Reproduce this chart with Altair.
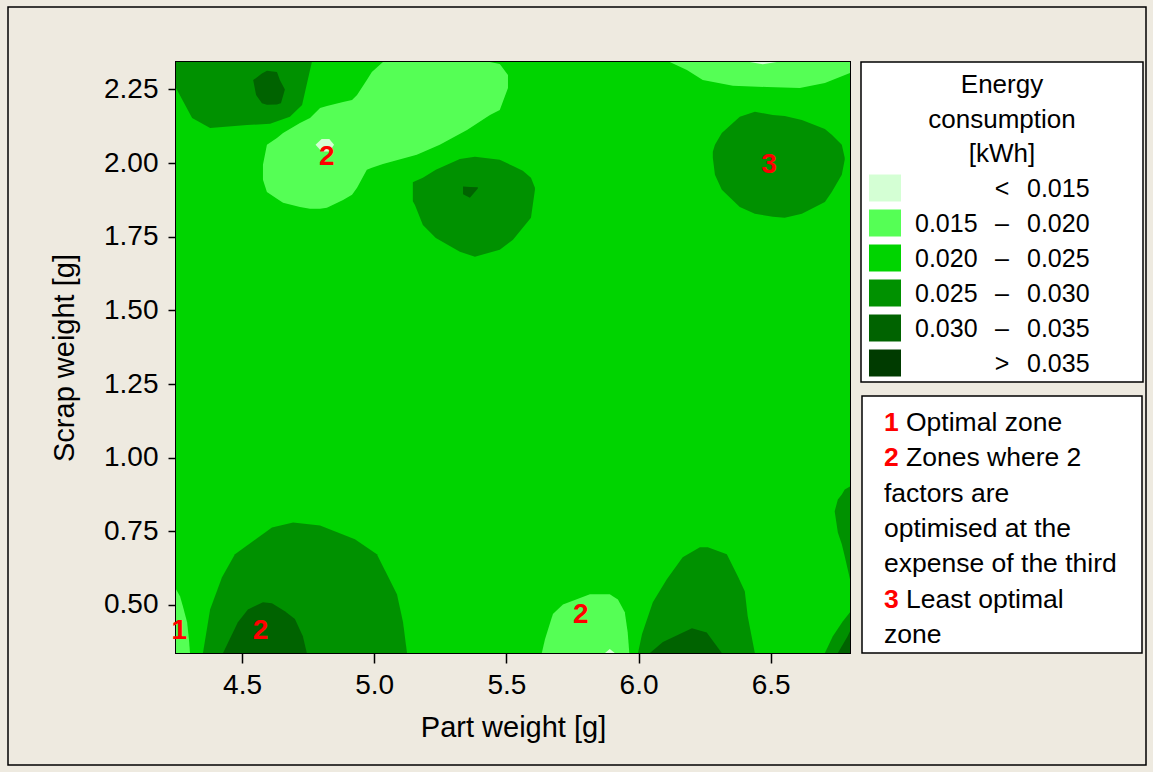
import altair as alt
import pandas as pd

# ---------------- axes ----------------
x_min, x_max = 4.25, 6.80
y_min, y_max = 0.337, 2.343
x_ticks = [4.5, 5.0, 5.5, 6.0, 6.5]
y_ticks = [0.50, 0.75, 1.00, 1.25, 1.50, 1.75, 2.00, 2.25]

# ---------------- energy bands [kWh] ----------------
levels = ["< 0.015", "0.015 – 0.020", "0.020 – 0.025",
          "0.025 – 0.030", "0.030 – 0.035", "> 0.035"]
level_colors = ["#D4FFD4", "#55FF55", "#00D400", "#009100", "#006300", "#003B00"]
base_level = "0.020 – 0.025"

# legend row texts
leg_lo = ["", "0.015", "0.020", "0.025", "0.030", ""]
leg_sym = ["<", "–", "–", "–", "–", ">"]
leg_hi = ["0.015", "0.020", "0.025", "0.030", "0.035", "0.035"]

# ---------------- contour regions ----------------
# each region: part weight positions with upper / lower scrap-weight boundary
A_x = [4.250, 4.311, 4.379, 4.519, 4.606, 4.681, 4.727, 4.764]
A_bot = [2.255, 2.153, 2.119, 2.129, 2.133, 2.157, 2.197, 2.343]

A2_x = [4.542, 4.553, 4.575, 4.594, 4.632, 4.643, 4.647, 4.662]
A2_top = [2.282, 2.289, 2.304, 2.313, 2.309, 2.282, 2.275, 2.250]
A2_bot = [2.282, 2.231, 2.203, 2.198, 2.199, 2.202, 2.203, 2.250]

B_x = [5.146, 5.154, 5.184, 5.233, 5.324, 5.381, 5.475, 5.525, 5.562, 5.593, 5.608]
B_top = [1.935, 1.938, 1.950, 1.977, 2.014, 2.021, 2.011, 1.990, 1.974, 1.950, 1.916]
B_bot = [1.870, 1.858, 1.790, 1.746, 1.699, 1.682, 1.706, 1.740, 1.780, 1.814, 1.909]

B2_x = [5.336, 5.362, 5.392]
B2_top = [1.920, 1.919, 1.918]
B2_bot = [1.894, 1.882, 1.914]

C_x = [6.281, 6.289, 6.315, 6.383, 6.440, 6.508, 6.553, 6.618, 6.705, 6.731, 6.769, 6.780]
C_top = [2.038, 2.062, 2.102, 2.157, 2.174, 2.163, 2.160, 2.146, 2.116, 2.096, 2.062, 2.018]
C_bot = [2.018, 1.960, 1.909, 1.851, 1.828, 1.818, 1.814, 1.828, 1.868, 1.902, 1.960, 2.011]

D_x = [4.352, 4.379, 4.424, 4.473, 4.613, 4.693, 4.795, 4.927, 5.010, 5.086, 5.109, 5.124]
D_top = [0.337, 0.485, 0.594, 0.672, 0.763, 0.780, 0.770, 0.723, 0.672, 0.536, 0.441, 0.337]

D2_x = [4.428, 4.484, 4.522, 4.579, 4.613, 4.662, 4.700, 4.730, 4.745]
D2_top = [0.337, 0.441, 0.485, 0.509, 0.506, 0.479, 0.452, 0.394, 0.337]

E_x = [5.998, 6.013, 6.054, 6.107, 6.167, 6.232, 6.262, 6.334, 6.376, 6.402, 6.413, 6.440]
E_top = [0.337, 0.401, 0.509, 0.587, 0.662, 0.696, 0.696, 0.672, 0.597, 0.547, 0.462, 0.337]

E2_x = [6.043, 6.092, 6.202, 6.258, 6.315]
E2_top = [0.337, 0.374, 0.421, 0.407, 0.337]

F1_x = [6.742, 6.754, 6.769, 6.780, 6.800]
F1_top = [0.818, 0.858, 0.875, 0.892, 0.902]
F1_bot = [0.818, 0.746, 0.706, 0.665, 0.587]

F2_x = [6.705, 6.735, 6.773, 6.800]
F2_top = [0.337, 0.394, 0.445, 0.475]

F3_x = [6.754, 6.791, 6.800]
F3_top = [0.337, 0.394, 0.411]

G_x = [4.579, 4.594, 4.632, 4.655, 4.719, 4.757, 4.795, 4.821, 4.882, 4.916,
       4.935, 4.972, 4.991, 5.033, 5.161, 5.248, 5.351, 5.438, 5.475, 5.506]
G_top = [1.994, 2.062, 2.085, 2.102, 2.136, 2.153, 2.187, 2.194, 2.207, 2.214,
         2.231, 2.282, 2.309, 2.343, 2.343, 2.343, 2.343, 2.343, 2.336, 2.299]
G_bot = [1.943, 1.902, 1.879, 1.865, 1.851, 1.845, 1.845, 1.848, 1.875, 1.892,
         1.916, 1.977, 1.984, 1.997, 2.028, 2.062, 2.112, 2.163, 2.180, 2.255]

G2_x = [4.778, 4.801, 4.830, 4.848]
G2_top = [2.062, 2.082, 2.082, 2.062]
G2_bot = [2.062, 2.039, 2.039, 2.062]

H_x = [6.118, 6.183, 6.243, 6.357, 6.486, 6.610, 6.705, 6.800]
H_bot = [2.343, 2.316, 2.282, 2.262, 2.258, 2.255, 2.272, 2.306]

H2_x = [6.421, 6.470, 6.523]
H2_bot = [2.343, 2.335, 2.343]

I_x = [5.634, 5.646, 5.676, 5.714, 5.816, 5.891, 5.922, 5.948, 5.959, 5.965]
I_top = [0.337, 0.384, 0.469, 0.502, 0.536, 0.536, 0.519, 0.475, 0.407, 0.337]

I2_x = [5.873, 5.891, 5.910]
I2_top = [0.337, 0.351, 0.337]

J_x = [4.250, 4.265, 4.276, 4.292, 4.299, 4.303]
J_top = [0.553, 0.530, 0.496, 0.441, 0.384, 0.337]

# zone markers drawn on the map
zone_txt = ["2", "3", "1", "2", "2"]
zone_x = [4.820, 6.494, 4.262, 4.570, 5.781]
zone_y = [2.022, 1.994, 0.412, 0.412, 0.465]

# explanation box
note_num = ["1", "2", "", "", "", "3", ""]
note_txt = ["Optimal zone", "Zones where 2", "factors are", "optimised at the",
            "expense of the third", "Least optimal", "zone"]

legend_title = ["Energy", "consumption", "[kWh]"]

# ---------------- build region table ----------------
# (name, band, x, upper, lower); None = region runs to the plot edge
regions = [
    ("A", "0.025 – 0.030", A_x, None, A_bot),
    ("B", "0.025 – 0.030", B_x, B_top, B_bot),
    ("C", "0.025 – 0.030", C_x, C_top, C_bot),
    ("D", "0.025 – 0.030", D_x, D_top, None),
    ("E", "0.025 – 0.030", E_x, E_top, None),
    ("F1", "0.025 – 0.030", F1_x, F1_top, F1_bot),
    ("F2", "0.025 – 0.030", F2_x, F2_top, None),
    ("A2", "0.030 – 0.035", A2_x, A2_top, A2_bot),
    ("B2", "0.030 – 0.035", B2_x, B2_top, B2_bot),
    ("D2", "0.030 – 0.035", D2_x, D2_top, None),
    ("E2", "0.030 – 0.035", E2_x, E2_top, None),
    ("F3", "0.030 – 0.035", F3_x, F3_top, None),
    ("G", "0.015 – 0.020", G_x, G_top, G_bot),
    ("H", "0.015 – 0.020", H_x, None, H_bot),
    ("I", "0.015 – 0.020", I_x, I_top, None),
    ("J", "0.015 – 0.020", J_x, J_top, None),
    ("G2", "< 0.015", G2_x, G2_top, G2_bot),
    ("H2", "< 0.015", H2_x, None, H2_bot),
    ("I2", "< 0.015", I2_x, I2_top, None),
]
rows = []
for name, band, xs, tops, bots in regions:
    for i, xv in enumerate(xs):
        rows.append({
            "region": name, "level": band, "x": xv,
            "top": y_max if tops is None else tops[i],
            "bot": y_min if bots is None else bots[i],
        })
reg_df = pd.DataFrame(rows)

# ---------------- shared encodings ----------------
FONT = "Liberation Sans"
xscale = alt.Scale(domain=[x_min, x_max], nice=False, zero=False)
yscale = alt.Scale(domain=[y_min, y_max], nice=False, zero=False)
cscale = alt.Scale(domain=levels, range=level_colors)
xaxis = alt.Axis(values=x_ticks, format=".1f", title="Part weight [g]",
                 grid=False, domain=False, tickSize=10, tickWidth=1.5,
                 tickColor="black", labelPadding=8, titlePadding=14)
yaxis = alt.Axis(values=y_ticks, format=".2f", title="Scrap weight [g]",
                 grid=False, domain=False, tickSize=8, tickWidth=1.5,
                 tickColor="black", labelPadding=10, titlePadding=24)

bg = alt.Chart(pd.DataFrame({"x": [x_min], "x2": [x_max], "y": [y_min],
                             "y2": [y_max], "level": [base_level]})).mark_rect().encode(
    x=alt.X("x:Q", scale=xscale, axis=xaxis),
    x2="x2:Q",
    y=alt.Y("y:Q", scale=yscale, axis=yaxis),
    y2="y2:Q",
    color=alt.Color("level:N", scale=cscale, legend=None),
)


def band_layer(band_names):
    return alt.Chart(reg_df[reg_df["level"].isin(band_names)]).mark_area(
        clip=True, interpolate="linear").encode(
        x=alt.X("x:Q", scale=xscale, axis=xaxis),
        y=alt.Y("top:Q", scale=yscale, axis=yaxis, stack=None),
        y2="bot:Q",
        detail="region:N",
        color=alt.Color("level:N", scale=cscale, legend=None),
    )


dark1 = band_layer(["0.025 – 0.030"])
dark2 = band_layer(["0.030 – 0.035"])
light1 = band_layer(["0.015 – 0.020"])
light2 = band_layer(["< 0.015"])

zones = alt.Chart(pd.DataFrame({"t": zone_txt, "x": zone_x, "y": zone_y})).mark_text(
    font=FONT, fontSize=28, fontWeight="bold", color="#FF0000",
    align="center", baseline="middle").encode(
    x=alt.X("x:Q", scale=xscale, axis=xaxis),
    y=alt.Y("y:Q", scale=yscale, axis=yaxis),
    text="t:N",
)

# ---------------- legend panel (pixel positions relative to plot) ----------------
one = pd.DataFrame({"k": [0]})
frame = alt.Chart(one).mark_rect(filled=False, stroke="black", strokeWidth=1.5).encode(
    x=alt.value(-168), x2=alt.value(970), y=alt.value(-55), y2=alt.value(703))
box1 = alt.Chart(one).mark_rect(fill="white", stroke="black", strokeWidth=1.5).encode(
    x=alt.value(685), x2=alt.value(967), y=alt.value(0), y2=alt.value(320))
box2 = alt.Chart(one).mark_rect(fill="white", stroke="black", strokeWidth=1.5).encode(
    x=alt.value(686), x2=alt.value(966), y=alt.value(334), y2=alt.value(591))

leg_df = pd.DataFrame({
    "level": levels, "lo": leg_lo, "sym": leg_sym, "hi": leg_hi,
})
leg_df["cy"] = [126 + 35 * i for i in range(len(levels))]
leg_df["y0"] = leg_df["cy"] - 13.5
leg_df["y1"] = leg_df["cy"] + 13.5
leg_df["base"] = leg_df["cy"] + 9

swatch = alt.Chart(leg_df).mark_rect().encode(
    x=alt.value(693), x2=alt.value(725),
    y=alt.Y("y0:Q", scale=None), y2="y1:Q",
    color=alt.Color("level:N", scale=cscale, legend=None),
)
TXT = dict(font=FONT, fontSize=25, color="black", baseline="alphabetic")
leg_lo_t = alt.Chart(leg_df).mark_text(align="left", **TXT).encode(
    x=alt.value(739), y=alt.Y("base:Q", scale=None), text="lo:N")
leg_sym_t = alt.Chart(leg_df).mark_text(align="center", **TXT).encode(
    x=alt.value(826), y=alt.Y("base:Q", scale=None), text="sym:N")
leg_hi_t = alt.Chart(leg_df).mark_text(align="left", **TXT).encode(
    x=alt.value(851), y=alt.Y("base:Q", scale=None), text="hi:N")

title_df = pd.DataFrame({"t": legend_title})
title_df["base"] = [31 + 34.5 * i for i in range(len(legend_title))]
leg_title = alt.Chart(title_df).mark_text(
    align="center", font=FONT, fontSize=26, color="black", baseline="alphabetic").encode(
    x=alt.value(826), y=alt.Y("base:Q", scale=None), text="t:N")

note_df = pd.DataFrame({"n": note_num, "t": note_txt})
note_df["base"] = [369 + 35.3 * i for i in range(len(note_txt))]
note_df["tx"] = [730 if n else 708 for n in note_num]
NOTE = dict(font=FONT, fontSize=26.5, baseline="alphabetic", align="left")
note_n = alt.Chart(note_df).mark_text(
    fontWeight="bold", color="#FF0000", **NOTE).encode(
    x=alt.value(708), y=alt.Y("base:Q", scale=None), text="n:N")
note_t = alt.Chart(note_df).mark_text(color="black", **NOTE).encode(
    x=alt.X("tx:Q", scale=None), y=alt.Y("base:Q", scale=None), text="t:N")

chart = alt.layer(
    frame, bg, dark1, dark2, light1, light2, zones,
    box1, swatch, leg_title, leg_lo_t, leg_sym_t, leg_hi_t,
    box2, note_n, note_t,
).properties(
    width=674, height=591,
    padding={"left": 7, "top": 6, "right": 6, "bottom": 6},
).configure(
    background="#EEEAE0", font=FONT,
).configure_view(
    stroke="black", strokeWidth=2,
).configure_axis(
    labelFont=FONT, titleFont=FONT, labelFontSize=28, titleFontSize=29,
    labelColor="black", titleColor="black", titleFontWeight="normal",
)

chart.save("out.html", embed_options={"renderer": "svg", "actions": False})
